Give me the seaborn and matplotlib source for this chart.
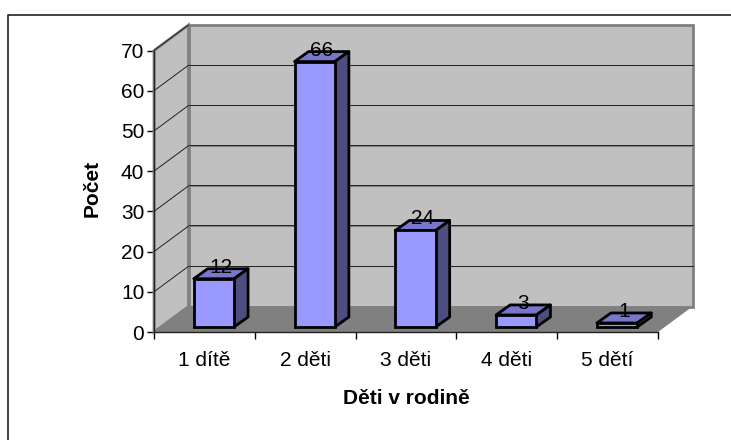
import matplotlib
matplotlib.use('Agg')
import matplotlib.pyplot as plt
import pandas as pd
import seaborn as sns
from matplotlib.lines import Line2D
from matplotlib.patches import Polygon

categories = ['1 dítě', '2 děti', '3 děti', '4 děti', '5 dětí']
counts = [12, 66, 24, 3, 1]
y_ticks = [0, 10, 20, 30, 40, 50, 60, 70]

W, H = 731, 440
sns.set_theme(style='white')
plt.rcParams['font.family'] = ['Liberation Sans', 'DejaVu Sans']

fig = plt.figure(figsize=(W / 100, H / 100), dpi=100, facecolor='white')
# front plane of the fake 3d box, in pixels
left, right, top, bottom = 154, 658, 50.5, 332
ax = fig.add_axes([left / W, 1 - bottom / H, (right - left) / W, (bottom - top) / H])
ax.patch.set_alpha(0)

df = pd.DataFrame({'kids': categories, 'count': counts})
sns.barplot(data=df, x='kids', y='count', ax=ax, color='#9999ff', saturation=1,
            width=0.40, edgecolor='black', linewidth=2, zorder=5)
ax.set_xlim(-0.5, 4.5)
ax.set_ylim(0, 70)

px_x = 5 / (right - left)   # data units per pixel
px_y = 70 / (bottom - top)
dx, dy = 34.5 * px_x, 25.5 * px_y        # box depth
bx, by = 14 * px_x, 10 * px_y            # bar depth
sx, sy = 9.5 * px_x, 5 * px_y            # bar offset on the floor

def poly(pts, **kw):
    kw.setdefault('clip_on', False)
    ax.add_patch(Polygon(pts, closed=True, **kw))

x0, x1 = -0.5, 4.5
# walls and floor
poly([(x0, 0), (x0 + dx, dy), (x0 + dx, 70 + dy), (x0, 70)], fc='#c0c0c0', ec='#808080', lw=2, zorder=1)
poly([(x0 + dx, dy), (x1 + dx, dy), (x1 + dx, 70 + dy), (x0 + dx, 70 + dy)], fc='#c0c0c0', ec='#808080', lw=2, zorder=1)
poly([(x0, 0), (x1, 0), (x1 + dx, dy), (x0 + dx, dy)], fc='#808080', ec='none', zorder=2)

# gridlines on back wall and left wall
for t in y_ticks[1:-1]:
    ax.plot([x0 + dx, x1 + dx], [t + dy, t + dy], color='#808080', lw=0.8, zorder=2, clip_on=False)
    ax.plot([x0 + dx, x1 + dx], [t + dy + 0.15, t + dy + 0.15], color='#222222', lw=0.7, zorder=2, clip_on=False)
for t in y_ticks[1:]:
    ax.plot([x0, x0 + dx], [t, t + dy], color='#222222', lw=0.7, zorder=2, clip_on=False)

# bars: front from seaborn, moved onto the floor, with top and side faces
for bar, c in zip(ax.patches[:len(counts)], counts):
    bar.set_x(bar.get_x() + sx)
    bar.set_y(sy)
    bar.set_clip_on(False)
    xa, xb = bar.get_x(), bar.get_x() + bar.get_width()
    ya, yb = sy, sy + c
    poly([(xa, yb), (xb, yb), (xb + bx, yb + by), (xa + bx, yb + by)], fc='#7777cc', ec='black', lw=2, zorder=4, joinstyle='round')
    poly([(xb, ya), (xb + bx, ya + by), (xb + bx, yb + by), (xb, yb)], fc='#4d4d80', ec='black', lw=2, zorder=4, joinstyle='round')
    ax.annotate(str(c), ((xa + xb) / 2 + bx / 2, yb), xytext=(0, 2), textcoords='offset pixels',
                ha='center', va='bottom', fontsize=15, color='black', zorder=6, annotation_clip=False)

ax.set_yticks(y_ticks)
ax.set_xticks([i - 0.5 for i in range(6)], minor=True)
ax.set_xticks(range(5))
ax.set_xticklabels(categories, fontsize=15, color='black')
ax.tick_params(axis='x', which='major', length=0, pad=14)
ax.tick_params(axis='x', which='minor', length=5, width=1, color='black', bottom=True)
ax.tick_params(axis='y', length=5, width=1, color='black', left=True, labelsize=15, labelcolor='black', pad=2)
for s in ['top', 'right']:
    ax.spines[s].set_visible(False)
for s in ['left', 'bottom']:
    ax.spines[s].set_color('#222222')
    ax.spines[s].set_linewidth(1)
    ax.spines[s].set_zorder(3)

ax.set_xlabel('Děti v rodině', fontsize=15, fontweight='bold', color='black', labelpad=13)
ax.set_ylabel('Počet', fontsize=15, fontweight='bold', color='black', labelpad=14, y=0.51)

# chart area border, only the top and left sides are visible in the source
fig.add_artist(Line2D([7.5 / W, 7.5 / W, 1], [0, 1 - 15.5 / H, 1 - 15.5 / H],
                      color='#222222', lw=1.2, transform=fig.transFigure))

fig.savefig('out.png', dpi=100)
